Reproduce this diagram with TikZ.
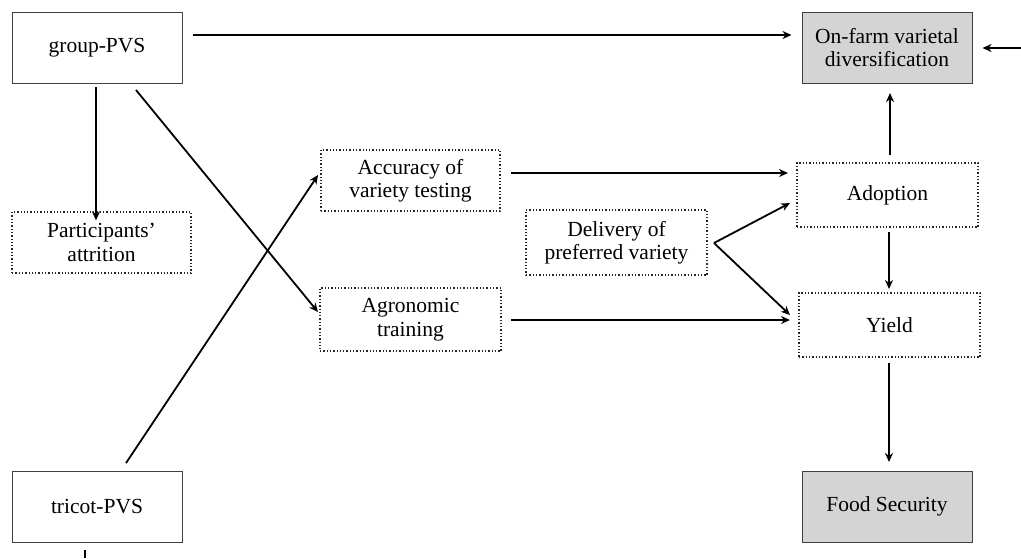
\documentclass[tikz,border=0pt]{standalone}
\usepackage{fontspec}
\setmainfont{Liberation Serif}
\usetikzlibrary{arrows.meta}
\begin{document}
\begin{tikzpicture}[x=1pt,y=-1pt,
  solidbox/.style={draw=black!75,line width=1pt,minimum width=170pt,minimum height=71pt,inner sep=0pt,align=center,font=\fontsize{21.5}{23.5}\selectfont},
  dotbox/.style={draw=black!85,line width=1.3pt,dotted,minimum width=180pt,minimum height=62pt,inner sep=0pt,align=center,font=\fontsize{21.5}{23.5}\selectfont},
  grey/.style={fill=black!17},
  arr/.style={line width=1.8pt,-{Stealth[length=9pt,width=8pt]}},
  ln/.style={line width=1.8pt}]
\useasboundingbox (0,0) rectangle (1021,558);
\node[solidbox] (g) at (97,47.5) {group-PVS};
\node[solidbox,grey] (o) at (887,47.5) {On-farm varietal\\diversification};
\node[dotbox,minimum width=179pt,minimum height=61pt] (p) at (101.5,242.5) {Participants'\\attrition};
\node[dotbox,minimum width=179pt,minimum height=61pt] (a) at (410.5,180.5) {Accuracy of\\variety testing};
\node[dotbox,minimum width=181pt,minimum height=63pt] (t) at (410.5,319.5) {Agronomic\\training};
\node[dotbox,minimum width=181pt,minimum height=65pt] (d) at (616.5,242.5) {Delivery of\\preferred variety};
\node[dotbox,minimum width=181pt,minimum height=64pt] (ad) at (887.5,195) {Adoption};
\node[dotbox,minimum width=181pt,minimum height=64pt] (y) at (889.5,325) {Yield};
\node[solidbox] (tr) at (97,506.5) {tricot-PVS};
\node[solidbox,grey] (f) at (887,506.5) {Food Security};
\coordinate (rin) at (1021,48);
\coordinate (tb) at (85,558);
% connectors
\draw[arr] ([xshift=10pt]g.east |- 0,35) -- ([xshift=-10pt]o.west |- 0,35);
\draw[arr] (rin) -- ([xshift=10pt]o.east |- rin);
\draw[arr] (96,87) -- ([yshift=-9pt]p.north -| 96,0);
\draw[arr] (136,90) -- (318,312);
\draw[arr] (126,463) -- (318,175);
\draw[arr] (511,173) -- (788,173);
\draw[arr] (511,320) -- (790,320);
\draw[arr] (714,243) -- (790,203);
\draw[arr] (714,243) -- (790,315);
\draw[arr] (890,155) -- (890,93);
\draw[arr] (889,232) -- (889,289);
\draw[arr] (889,363) -- (889,462);
\draw[ln] (85,550) -- (tb);
\end{tikzpicture}
\end{document}
